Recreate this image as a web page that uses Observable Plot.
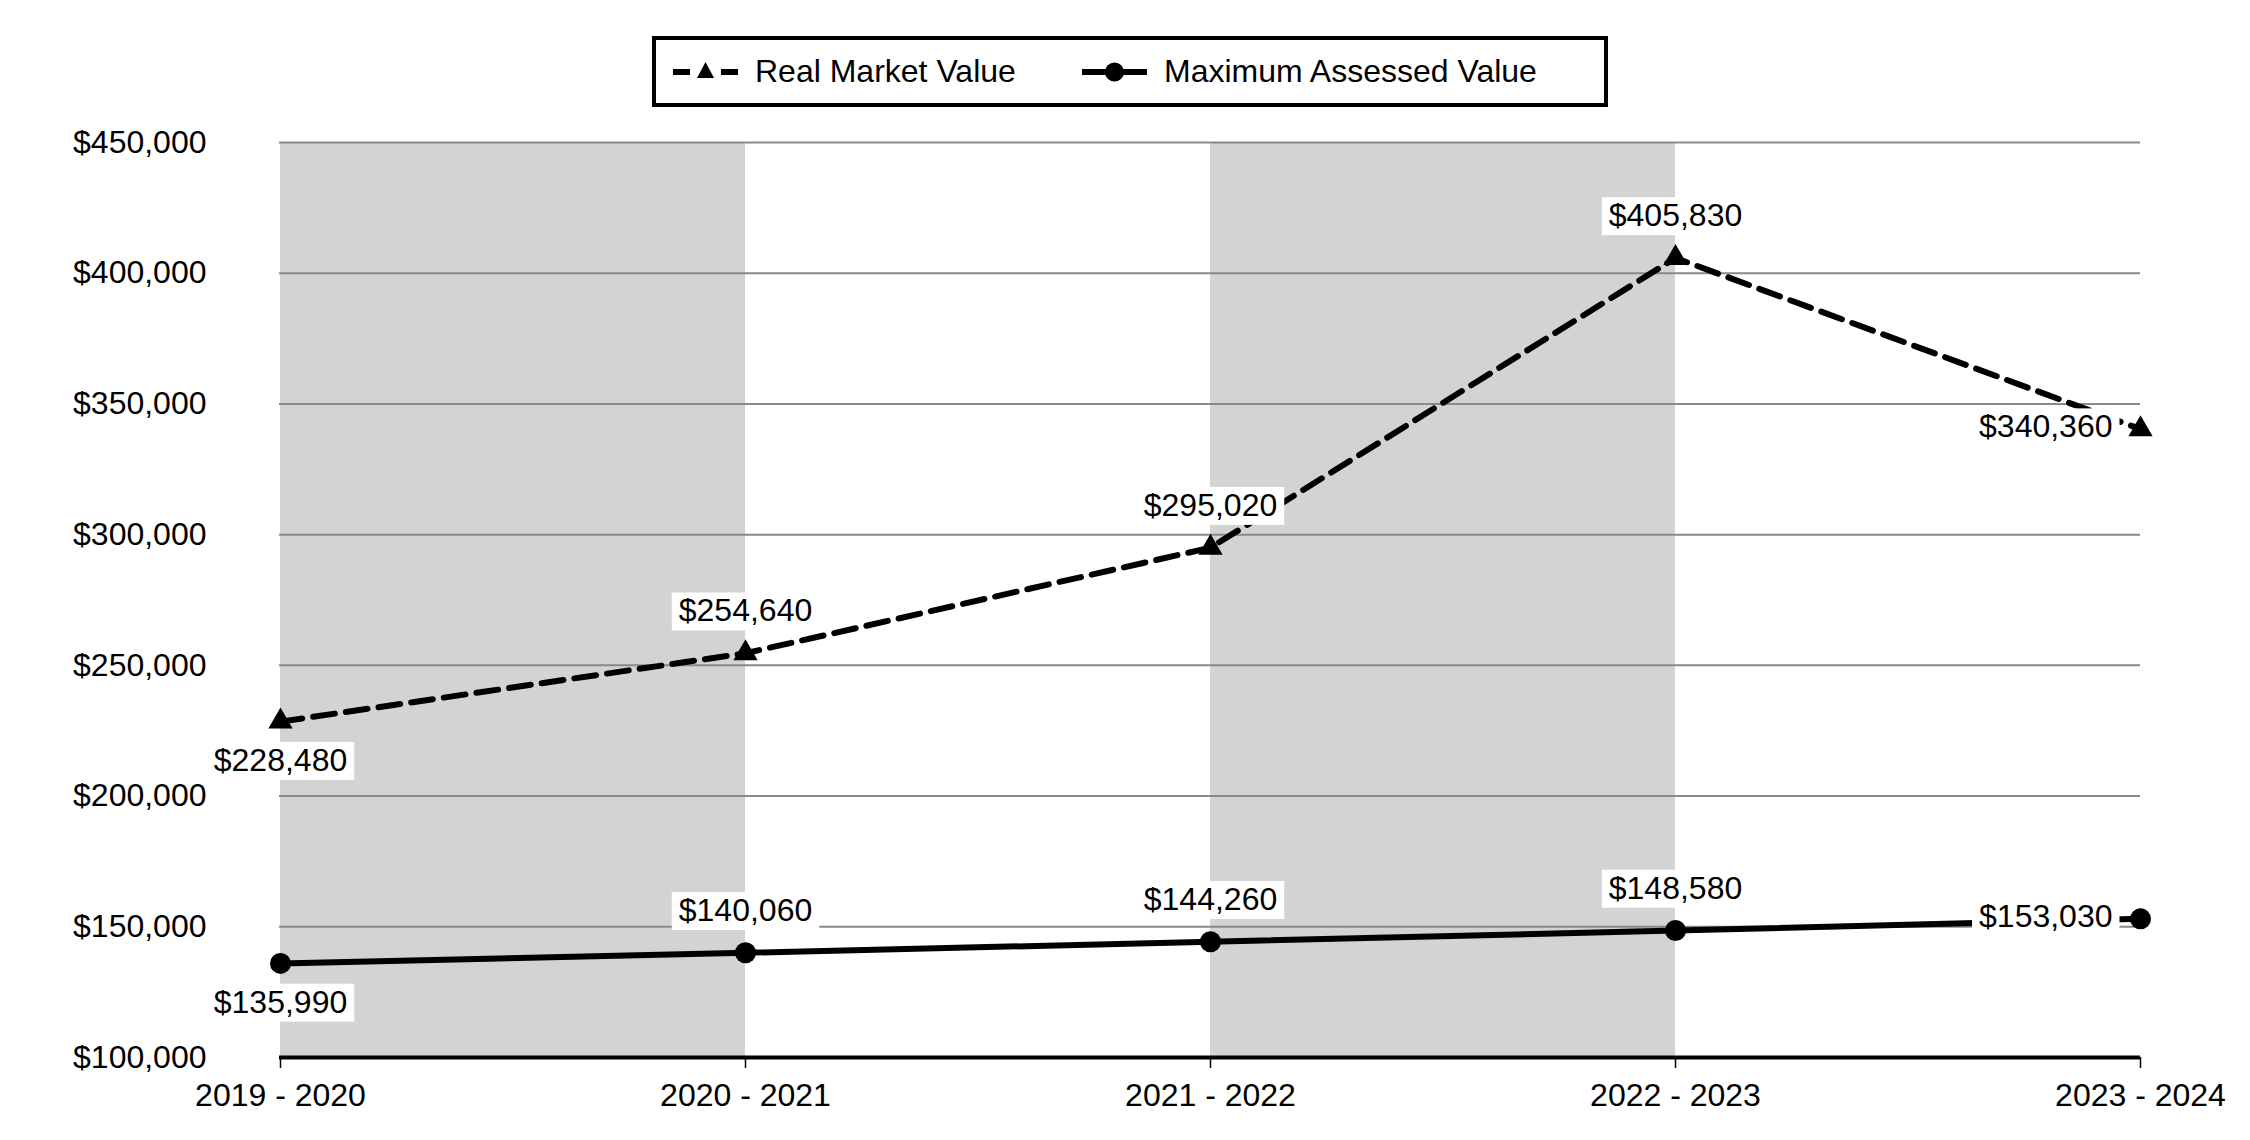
<!DOCTYPE html>
<html>
<head>
<meta charset="utf-8">
<script src="https://cdn.jsdelivr.net/npm/d3@7"></script>
<script src="https://cdn.jsdelivr.net/npm/@observablehq/plot@0.6"></script>
<style>
  html, body { margin: 0; padding: 0; background: #fff; }
  body { width: 2250px; height: 1140px; overflow: hidden; font-family: "Liberation Sans", Arial, sans-serif; }
  #header { position: relative; height: 120px; width: 2250px; }
  .legend { position: absolute; left: 652px; top: 36px; width: 956px; height: 71px; border: 4px solid #000; box-sizing: border-box; }
  .legend .item { position: absolute; top: 0; height: 63px; display: flex; align-items: center; font-size: 32px; color: #000; white-space: nowrap; }
  .legend svg { display: block; margin-right: 17px; }
</style>
</head>
<body>
<div id="header">
  <div class="legend">
    <div class="item" style="left:17px">
      <svg width="65" height="30" viewBox="0 0 65 30">
        <line x1="0" y1="15" x2="65" y2="15" stroke="#000" stroke-width="6" stroke-dasharray="17,12,7,12,17"/>
        <path d="M32.5,5 L41,21 L24,21 Z" fill="#000"/>
      </svg>
      <span>Real Market Value</span>
    </div>
    <div class="item" style="left:426px">
      <svg width="65" height="30" viewBox="0 0 65 30">
        <line x1="0" y1="15" x2="65" y2="15" stroke="#000" stroke-width="6"/>
        <circle cx="32.5" cy="15" r="9.5" fill="#000"/>
      </svg>
      <span>Maximum Assessed Value</span>
    </div>
  </div>
</div>
<div id="chart"></div>
<script>
// ---- data ----
const years = ["2019 - 2020", "2020 - 2021", "2021 - 2022", "2022 - 2023", "2023 - 2024"];
const realMarketValue = [228480, 254640, 295020, 405830, 340360];
const maxAssessedValue = [135990, 140060, 144260, 148580, 153030];
const yTicks = [100000, 150000, 200000, 250000, 300000, 350000, 400000, 450000];
const shadedStart = ["2019 - 2020", "2021 - 2022"];
const shadedEnd = ["2020 - 2021", "2022 - 2023"];

// ---- derived tables ----
const rmv = years.map((year, i) => ({year, value: realMarketValue[i], i}));
const mav = years.map((year, i) => ({year, value: maxAssessedValue[i], i}));
const bands = shadedStart.map((s, i) => ({from: s, to: shadedEnd[i]}));
const yDomain = [yTicks[0], yTicks[yTicks.length - 1]];
const money = d => "$" + d3.format(",")(d);
const last = years.length - 1;
const placement = d => d.i === 0 ? "below" : d.i === last ? "left" : "above";
const all = rmv.concat(mav);

const labelStyle = {x: "year", y: "value", text: d => money(d.value), fontSize: 32, fill: "#000"};

const chart = Plot.plot({
  width: 2250,
  height: 1020,
  marginLeft: 279,
  marginRight: 110,
  marginTop: 22,
  marginBottom: 83,
  style: {fontFamily: "'Liberation Sans', Arial, sans-serif", fontSize: "32px", background: "#fff", color: "#000"},
  x: {type: "point", domain: years, padding: 0},
  y: {domain: yDomain},
  marks: [
    Plot.rect(bands, {x1: "from", x2: "to", y1: () => yDomain[0], y2: () => yDomain[1], fill: "#d3d3d3"}),
    Plot.gridY(yTicks, {stroke: "#8a8a8a", strokeOpacity: 1, strokeWidth: 2}),
    Plot.ruleY([yDomain[0]], {stroke: "#000", strokeWidth: 4}),
    Plot.axisY(yTicks, {tickSize: 0, tickPadding: 73, tickFormat: money, fontSize: 32, label: null}),
    Plot.axisX({tickSize: 11, tickPadding: 15, fontSize: 32, label: null, strokeWidth: 1.5}),
    Plot.line(rmv, {x: "year", y: "value", stroke: "#000", strokeWidth: 6, strokeDasharray: "22,11"}),
    Plot.line(mav, {x: "year", y: "value", stroke: "#000", strokeWidth: 6}),
    Plot.dot(rmv, {x: "year", y: "value", symbol: "triangle", r: 9, fill: "#000"}),
    Plot.dot(mav, {x: "year", y: "value", symbol: "circle", r: 10.5, fill: "#000"}),
    Plot.text(all.filter(d => placement(d) === "above"), {...labelStyle, dy: -42}),
    Plot.text(all.filter(d => placement(d) === "below"), {...labelStyle, dy: 39}),
    Plot.text(all.filter(d => placement(d) === "left"), {...labelStyle, dx: -28, dy: -2, textAnchor: "end"})
  ]
});
document.getElementById("chart").appendChild(chart);

// white boxes behind the value labels
const labelTexts = [];
chart.querySelectorAll('g[aria-label="text"] text').forEach(t => labelTexts.push(t));
labelTexts.forEach(t => {
  const b = t.getBBox();
  const r = document.createElementNS("http://www.w3.org/2000/svg", "rect");
  r.setAttribute("x", b.x - 7);
  r.setAttribute("y", b.y);
  r.setAttribute("width", b.width + 14);
  r.setAttribute("height", b.height + 2);
  r.setAttribute("fill", "#fff");
  const tr = t.getAttribute("transform");
  if (tr) r.setAttribute("transform", tr);
  t.parentNode.insertBefore(r, t);
});
</script>
</body>
</html>
